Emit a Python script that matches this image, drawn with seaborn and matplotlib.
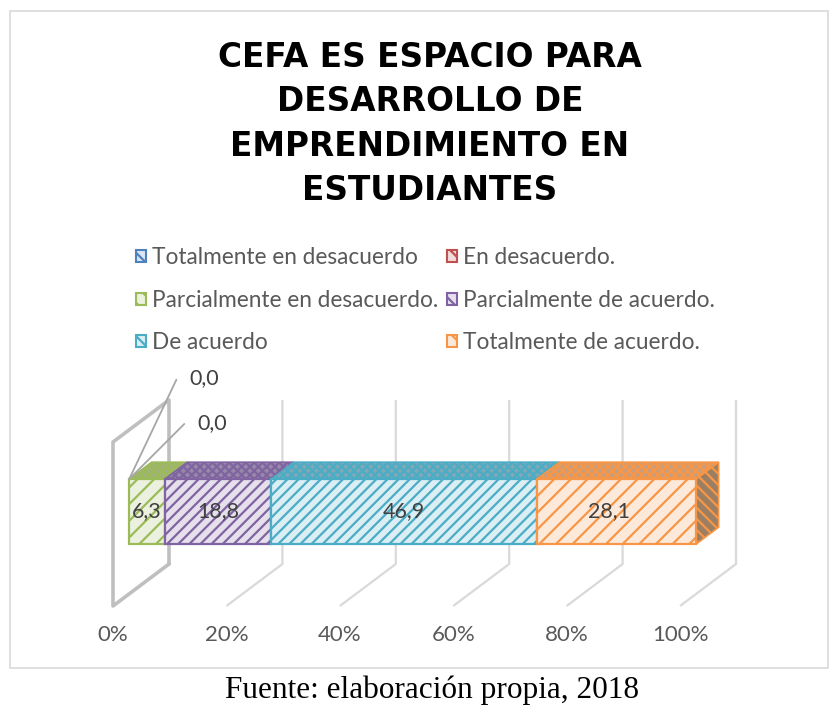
import matplotlib
matplotlib.use("Agg")
from matplotlib import pyplot as plt
from matplotlib.patches import Patch, Polygon, Rectangle
import seaborn as sns
import numpy as np

# datos de la grafica
categories = ["Totalmente en desacuerdo", "En desacuerdo.", "Parcialmente en desacuerdo.",
              "Parcialmente de acuerdo.", "De acuerdo", "Totalmente de acuerdo."]
values = [0.0, 0.0, 6.3, 18.8, 46.9, 28.1]
tick_values = [0, 20, 40, 60, 80, 100]
tick_labels = ["0%", "20%", "40%", "60%", "80%", "100%"]
title_lines = ["CEFA ES ESPACIO PARA", "DESARROLLO DE", "EMPRENDIMIENTO EN", "ESTUDIANTES"]
source = "Fuente: elaboración propia, 2018"

colors = ["#4F81BD", "#C0504D", "#9BBB59", "#8064A2", "#4BACC6", "#F79646"]
light = ["#DCE6F2", "#F2DCDB", "#EBF1DE", "#E5E0EC", "#DAEEF3", "#FDE9D9"]
top_colors = ["#7E97B8", "#B07E7C", "#A3B07E", "#968AA8", "#80A8B5", "#C69E7F"]
hatches = ["///", "///", "//", "///", "///", "//"]

sns.set_theme(style="white")
plt.rcParams["font.family"] = ["Lato", "DejaVu Sans"]
plt.rcParams["hatch.linewidth"] = 1.6

fig = plt.figure(figsize=(8.4, 7.08), dpi=100)
ax = fig.add_axes([113 / 840, 102 / 708, 567 / 840, 206 / 708])
ax.set_xlim(0, 100)
ax.set_ylim(0, 206)

# profundidad del "3D"
DX = 56 * 100 / 567
DY = 42
WALL = 164
f0 = 0.29
bd_x, bd_y = 0.4 * DX, 0.4 * DY

# pared y piso
for t in tick_values[1:]:
    ax.plot([t, t + DX, t + DX], [0, DY, DY + WALL], color="#d9d9d9", lw=1.6,
            clip_on=False, zorder=1, solid_capstyle="butt")
ax.plot([DX, 0, 0, DX, DX], [DY, 0, WALL, WALL + DY, DY], color="#bfbfbf", lw=2.6,
        clip_on=False, zorder=1)

# barras apiladas al 100%
widths = np.array(values) / sum(values) * 100
lefts = np.concatenate([[0], np.cumsum(widths)[:-1]])
x0 = f0 * DX
y0 = 62
h = 65
last = max(i for i, v in enumerate(values) if v > 0)
for i, v in enumerate(values):
    if v == 0:
        continue
    bars = ax.barh(y0 + h / 2, widths[i], left=x0 + lefts[i], height=h, color=light[i],
                   edgecolor=colors[i], hatch=hatches[i], lw=1.6, zorder=3, clip_on=False)
    ax.bar_label(bars, labels=[f"{v:.1f}".replace(".", ",")], label_type="center",
                 fontsize=15.5, color="#404040", zorder=6)
    l = x0 + lefts[i]
    r = l + widths[i]
    ax.add_patch(Polygon([(l, y0 + h), (r, y0 + h), (r + bd_x, y0 + h + bd_y), (l + bd_x, y0 + h + bd_y)],
                         facecolor=top_colors[i], edgecolor=colors[i], hatch="xxxx", lw=1.2,
                         zorder=2, clip_on=False))
    if i == last:
        ax.add_patch(Polygon([(r, y0), (r, y0 + h), (r + bd_x, y0 + h + bd_y), (r + bd_x, y0 + bd_y)],
                             facecolor="#9C7F62", edgecolor=colors[i], hatch="\\\\\\", lw=1.2,
                             zorder=2, clip_on=False))

# etiquetas de los valores cero
zero_offsets = [(60, 101), (68, 56)]
zeros = [i for i, v in enumerate(values) if v == 0]
for k, i in enumerate(zeros):
    dx_, dy_ = zero_offsets[k]
    ang = np.degrees(np.arctan2(dy_, dx_ - 12))
    ax.annotate(f"{values[i]:.1f}".replace(".", ","), xy=(x0, y0 + h), xytext=(dx_, dy_),
                textcoords="offset pixels", ha="left", va="center", fontsize=15.5, color="#404040",
                arrowprops=dict(arrowstyle="-", color="#a6a6a6", lw=1.3, shrinkA=7, shrinkB=0,
                                relpos=(0, 0.5),
                                connectionstyle=f"angle,angleA=0,angleB={ang:.1f},rad=0"),
                annotation_clip=False, zorder=6)

ax.set_xticks(tick_values, tick_labels)
ax.tick_params(axis="x", length=0, pad=14, labelsize=16, labelcolor="#595959")
ax.set_yticks([])
for s in ax.spines.values():
    s.set_visible(False)
ax.patch.set_alpha(0)

# leyenda
handles = [Patch(facecolor=lc, edgecolor=c, hatch="\\\\", lw=1.5) for c, lc in zip(colors, light)]
order = [0, 2, 4, 1, 3, 5]
fig.legend([handles[i] for i in order], [categories[i] for i in order], ncol=2,
           loc="upper left", bbox_to_anchor=(136 / 840, 1 - 247 / 708), frameon=False,
           fontsize=16.3, handlelength=0.45, handleheight=0.45, handletextpad=0.25,
           columnspacing=0.4, labelspacing=0.96, borderpad=0, borderaxespad=0,
           labelcolor="#595959")

# titulo
for j, line in enumerate(title_lines):
    fig.text(430 / 840, 1 - (67 + 44.3 * j) / 708, line, ha="center", va="baseline",
             family="DejaVu Sans", fontweight="bold", fontsize=23.6, color="black")

fig.text(432 / 840, 1 - 690 / 708, source, ha="center", va="center",
         family="Liberation Serif", fontsize=22.5, color="black")

fig.add_artist(Rectangle((10 / 840, 1 - 668 / 708), 818 / 840, 657 / 708,
                         transform=fig.transFigure, fill=False, edgecolor="#d9d9d9", lw=1.2))

plt.savefig("out.png", dpi=100)
